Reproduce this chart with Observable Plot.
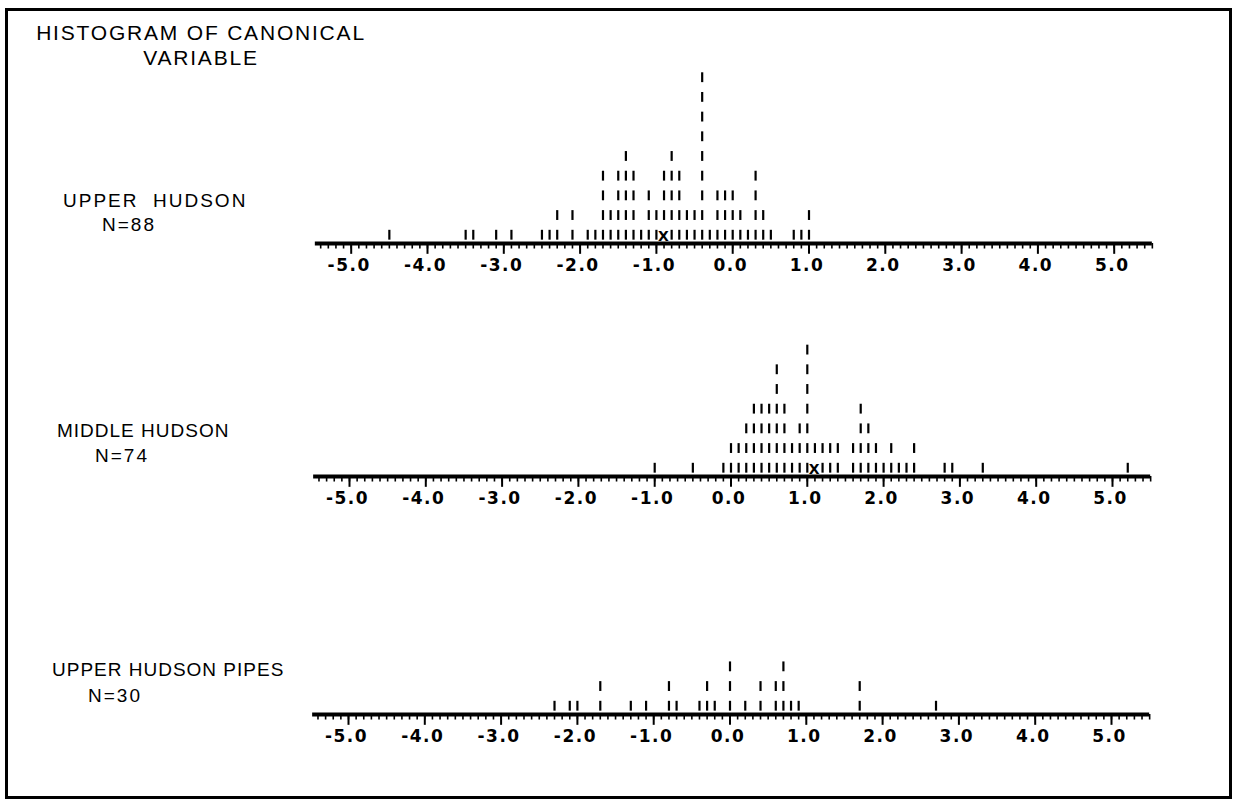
<!DOCTYPE html>
<html><head><meta charset="utf-8">
<script src="https://cdn.jsdelivr.net/npm/d3@7"></script>
<script src="https://cdn.jsdelivr.net/npm/@observablehq/plot@0.6"></script>
<style>
html,body{margin:0;padding:0;background:#fff;}
#page{position:relative;width:1238px;height:806px;overflow:hidden;background:#fff;font-family:"Liberation Sans",Arial,sans-serif;color:#000;}
#frame{position:absolute;left:5px;top:8px;width:1227px;height:791px;border:3px solid #000;box-sizing:border-box;}
.lbl{position:absolute;font-size:19px;line-height:25px;white-space:nowrap;letter-spacing:1px;}
#title{position:absolute;left:0;top:20px;width:402px;text-align:center;font-size:21px;line-height:25px;letter-spacing:1.8px;}
.panel{position:absolute;left:0;}
</style></head><body>
<div id="page">
  <div id="frame"></div>
  <div id="title">HISTOGRAM OF CANONICAL<br>VARIABLE</div>
  <div class="lbl" style="left:63px;top:188px;letter-spacing:2px;">UPPER&nbsp; HUDSON</div>
  <div class="lbl" style="left:102px;top:212px;letter-spacing:2px;">N=88</div>
  <div class="lbl" style="left:57px;top:418px;">MIDDLE HUDSON</div>
  <div class="lbl" style="left:95px;top:443px;letter-spacing:2px;">N=74</div>
  <div class="lbl" style="left:52px;top:657px;">UPPER HUDSON PIPES</div>
  <div class="lbl" style="left:88px;top:683px;letter-spacing:2px;">N=30</div>
</div>
<script>
// ---- data: value bins (width 0.1) and number of observations in each ----
const upperBins   = [-4.5,-3.5,-3.4,-3.1,-2.9,-2.5,-2.4,-2.3,-2.1,-1.9,-1.8,-1.7,-1.6,-1.5,-1.4,-1.3,-1.2,-1.1,-1.0,-0.9,-0.8,-0.7,-0.6,-0.5,-0.4,-0.3,-0.2,-0.1,0.0,0.1,0.2,0.3,0.4,0.5,0.8,0.9,1.0];
const upperCounts = [1,1,1,1,1,1,1,2,2,1,1,4,2,4,5,4,1,3,2,4,5,4,2,2,9,1,3,3,3,2,1,4,2,1,1,1,2];
const upperMean = -0.9;

const middleBins   = [-1.0,-0.5,-0.1,0.0,0.1,0.2,0.3,0.4,0.5,0.6,0.7,0.8,0.9,1.0,1.1,1.2,1.3,1.4,1.6,1.7,1.8,1.9,2.0,2.1,2.2,2.3,2.4,2.8,2.9,3.3,5.2];
const middleCounts = [1,1,1,2,2,3,4,4,4,6,4,2,3,7,2,2,2,2,2,4,3,2,1,2,1,1,2,1,1,1,1];
const middleMean = 1.1;

const pipesBins   = [-2.3,-2.1,-2.0,-1.7,-1.3,-1.1,-0.8,-0.7,-0.4,-0.3,-0.2,0.0,0.2,0.4,0.6,0.7,0.8,0.9,1.7,2.7];
const pipesCounts = [1,1,1,2,1,1,2,1,1,2,1,3,1,2,2,3,1,1,2,1];
const pipesMean = null;

// ---- axis ----
const xDomain = [-5.5, 5.5];
const majorTicks = [-5,-4,-3,-2,-1,0,1,2,3,4,5];
const tickLabels = ["-5.0","-4.0","-3.0","-2.0","-1.0","0.0","1.0","2.0","3.0","4.0","5.0"];
const minorTicks = d3.range(-54, 56).map(i => i / 10);

function stackRows(bins, counts, meanBin) {
  const rows = [];
  bins.forEach((b, i) => {
    for (let k = 0; k < counts[i]; k++) {
      if (meanBin !== null && Math.abs(b - meanBin) < 1e-9 && k === 0) continue; // X drawn instead
      rows.push({value: b, level: k});
    }
  });
  return rows;
}

function panel(bins, counts, mean, zero, top) {
  const ppu = 76.3;
  const left = zero - 5.5 * ppu;
  const right = 1238 - (zero + 5.5 * ppu);
  const rows = stackRows(bins, counts, mean);
  const marks = [
    Plot.ruleY([0], {x1: () => -5.47, x2: () => 5.5, stroke: "#000", strokeWidth: 3.8}),
    Plot.ruleX(minorTicks, {x: d => d, y1: () => 0, y2: () => -0.28, stroke: "#000", strokeWidth: 1.6}),
    Plot.ruleX(majorTicks, {x: d => d, y1: () => 0, y2: () => -0.55, stroke: "#000", strokeWidth: 2}),
    Plot.text(majorTicks, {x: d => d, y: () => -1.12, text: (d, i) => tickLabels[i], fontSize: 17, fontWeight: "bold", dx: -2, fill: "#000"}),
    Plot.ruleX(rows, {x: "value", y1: d => d.level + 0.17, y2: d => d.level + 0.67, stroke: "#000", strokeWidth: 2.2})
  ];
  if (mean !== null) {
    marks.push(Plot.text([mean], {x: d => d, y: () => 0.33, text: () => "X", fontSize: 14, fontWeight: "bold", fill: "#000"}));
  }
  const svg = Plot.plot({
    width: 1238, height: 231,
    marginTop: 0, marginBottom: 40, marginLeft: left, marginRight: right,
    x: {domain: xDomain, axis: null},
    y: {domain: [0, 9.7], axis: null},
    style: {background: "transparent", fontFamily: "'DejaVu Sans', sans-serif", letterSpacing: "1.5px", overflow: "visible"},
    marks
  });
  svg.classList.add("panel");
  svg.style.top = top + "px";
  svg.style.left = "0px";
  svg.style.position = "absolute";
  document.getElementById("page").appendChild(svg);
}

panel(upperBins, upperCounts, upperMean, 732.2, 52);
panel(middleBins, middleCounts, middleMean, 730.5, 285);
panel(pipesBins, pipesCounts, pipesMean, 729.5, 523);
</script>
</body></html>
